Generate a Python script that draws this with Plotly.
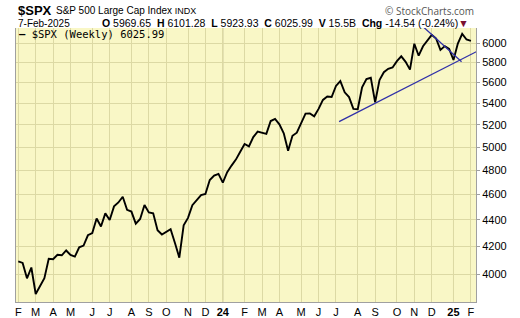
import math
import pandas as pd
import plotly.graph_objects as go

# Weekly closes of $SPX, week ending Friday, from 10-Feb-2023 to 7-Feb-2025
start_date = "2023-02-10"
closes = [
    4090, 4079, 3970, 4046, 3862, 3917, 3971, 4109, 4105, 4138, 4134, 4169,
    4136, 4124, 4192, 4205, 4282, 4299, 4410, 4348, 4450, 4399, 4505, 4536,
    4582, 4478, 4464, 4370, 4406, 4516, 4457, 4450, 4320, 4288, 4309, 4328,
    4224, 4117, 4358, 4415, 4514, 4559, 4595, 4604, 4719, 4755, 4770, 4697,
    4784, 4840, 4891, 4959, 5027, 5006, 5089, 5137, 5124, 5117, 5234, 5254,
    5204, 5123, 4967, 5100, 5128, 5223, 5303, 5305, 5278, 5347, 5432, 5465,
    5460, 5567, 5615, 5505, 5459, 5347, 5344, 5554, 5635, 5648, 5408, 5626,
    5703, 5738, 5751, 5815, 5865, 5808, 5729, 5996, 5871, 5969, 6032, 6090,
    6051, 5931, 5971, 5942, 5827, 5997, 6101, 6041, 6026,
]
dates = pd.date_range(start=start_date, periods=len(closes), freq="7D")

# Trendlines (date, value) endpoints
support_x = ["2024-07-10", "2025-02-21"]
support_y = [5228, 5930]
resist_x = ["2024-11-21", "2025-01-23"]
resist_y = [6185, 5808]

# Month ticks (first weekly bar of each month)
tick_dates = [
    "2023-02-10", "2023-03-10", "2023-04-07", "2023-05-05", "2023-06-09",
    "2023-07-07", "2023-08-11", "2023-09-08", "2023-10-06", "2023-11-10",
    "2023-12-08", "2024-01-05", "2024-02-09", "2024-03-08", "2024-04-05",
    "2024-05-10", "2024-06-07", "2024-07-05", "2024-08-09", "2024-09-06",
    "2024-10-11", "2024-11-08", "2024-12-06", "2025-01-10", "2025-02-07",
]
tick_labels = [
    "F", "M", "A", "M", "J", "J", "A", "S", "O", "N", "D", "<b>24</b>",
    "F", "M", "A", "M", "J", "J", "A", "S", "O", "N", "D", "<b>25</b>", "F",
]
year_lines = ["2024-01-05", "2025-01-10"]
y_ticks = [4000, 4200, 4400, 4600, 4800, 5000, 5200, 5400, 5600, 5800, 6000]
x_range = ["2023-02-06 08:00", "2025-02-15 05:00"]
y_range = [3808, 6164]

FONT = "Liberation Sans, Arial, sans-serif"
W, H = 520, 318
ML, MR, MT, MB = 16, 44, 28, 16
PW, PH = W - ML - MR, H - MT - MB


def px(x):
    return (x - ML) / PW


def py(y):
    return (H - MB - y) / PH


fig = go.Figure()
fig.add_trace(go.Scatter(x=dates, y=closes, mode="lines",
                         line=dict(color="#000000", width=1.9), hoverinfo="skip"))
fig.add_trace(go.Scatter(x=support_x, y=support_y, mode="lines",
                         line=dict(color="#3030a8", width=1.3), hoverinfo="skip"))
fig.add_trace(go.Scatter(x=resist_x, y=resist_y, mode="lines",
                         line=dict(color="#3030a8", width=1.3), hoverinfo="skip"))

for d in year_lines:
    fig.add_shape(type="line", xref="x", yref="paper", x0=d, x1=d, y0=0, y1=1,
                  line=dict(color="#b9b58a", width=1), layer="below")

fig.update_layout(
    width=W, height=H,
    margin=dict(l=ML, r=MR, t=MT, b=MB, autoexpand=False),
    paper_bgcolor="#ffffff", plot_bgcolor="#f9f7c6",
    showlegend=False,
    font=dict(family=FONT, color="#000000", size=11),
    xaxis=dict(
        type="date", range=x_range, tickmode="array",
        tickvals=tick_dates, ticktext=tick_labels,
        showgrid=True, gridcolor="#dcd9a4", gridwidth=1,
        showline=True, linecolor="#a0a0a0", linewidth=1,
        ticks="", tickfont=dict(size=11, family=FONT, color="#000"),
        zeroline=False, fixedrange=True,
    ),
    yaxis=dict(
        type="log", side="right",
        range=[math.log10(y_range[0]), math.log10(y_range[1])],
        tickmode="array", tickvals=y_ticks, ticktext=[str(v) for v in y_ticks],
        showgrid=True, gridcolor="#dcd9a4", gridwidth=1,
        showline=True, linecolor="#a0a0a0", linewidth=1, mirror=True,
        ticks="outside", ticklen=3, tickcolor="#a0a0a0",
        tickfont=dict(size=11, family=FONT, color="#000"),
        zeroline=False, fixedrange=True,
    ),
)

ann = [
    dict(text="<b>$SPX</b>", x=px(16), y=py(10.5), size=13),
    dict(text="S&P 500 Large Cap Index <span style='font-size:9px'>INDX</span>",
         x=px(54), y=py(11), size=10),
    dict(text="7-Feb-2025", x=px(16), y=py(23.5), size=10),
    dict(text=("<b>O</b> 5969.65  <b>H</b> 6101.28  <b>L</b> 5923.93  "
               "<b>C</b> 6025.99  <b>V</b> 15.5B  <b>Chg</b> -14.54 (-0.24%)"
               "<span style='color:#7a1030'>▼</span>"),
         x=px(100), y=py(23.5), size=10.5),
    dict(text="<b>—</b> $SPX (Weekly) 6025.99", x=px(17), y=py(34), size=10.5,
         family="DejaVu Sans Mono, monospace"),
]
for a in ann:
    fig.add_annotation(text=a["text"], xref="paper", yref="paper",
                       x=a["x"], y=a["y"], xanchor="left", yanchor="middle",
                       showarrow=False,
                       font=dict(size=a["size"], family=a.get("family", FONT),
                                 color="#000000"))
fig.add_annotation(text="© StockCharts.com", xref="paper", yref="paper",
                   x=px(476), y=py(10.5), xanchor="right", yanchor="middle",
                   showarrow=False,
                   font=dict(size=10, family="Open Sans, sans-serif", color="#555555"))

fig.write_html("out.html")
